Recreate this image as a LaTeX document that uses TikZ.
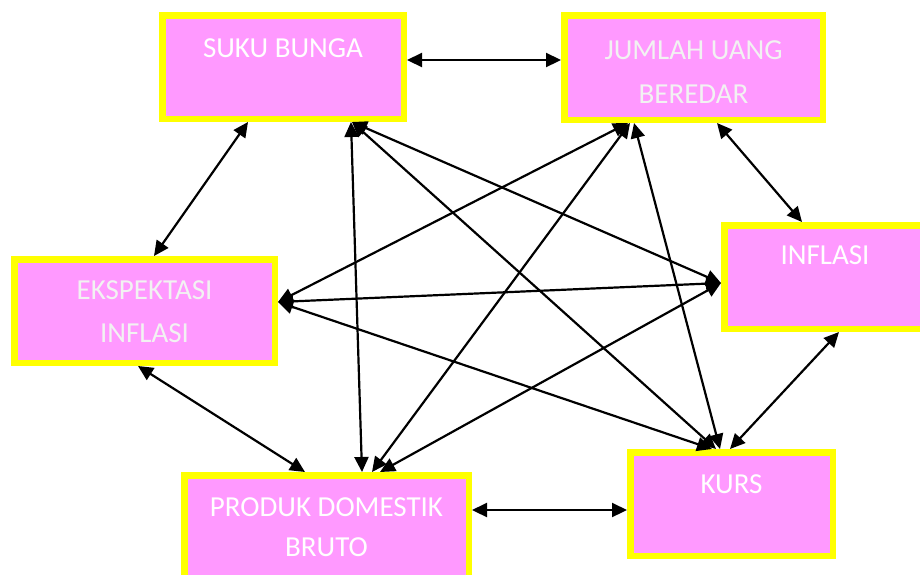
\documentclass[tikz,border=0pt]{standalone}
\usepackage{fontspec}
\setmainfont{Carlito}
\usetikzlibrary{arrows.meta}
\definecolor{boxpink}{HTML}{FF99FF}
\definecolor{boxyellow}{HTML}{FFFF00}
\definecolor{softwhite}{HTML}{F2F2F2}
\tikzset{
  varbox/.style={draw=boxyellow, fill=boxpink, line width=6.5pt, inner sep=0pt},
  vartext/.style={text=white, anchor=base, align=center, inner sep=0pt,
    font=\fontsize{29}{44}\selectfont},
  link/.style={line width=2.2pt, {Triangle[length=15pt,width=14pt]}-{Triangle[length=15pt,width=14pt]}}
}
\begin{document}
\begin{tikzpicture}[x=1pt, y=-1pt]
\useasboundingbox (0,0) rectangle (920,574);
\clip (0,0) rectangle (920,574);

% variable boxes (path size = outer size minus the yellow rim)
\node[varbox, minimum width=241.5pt, minimum height=103.5pt] (sb) at (283,67) {};
\node[varbox, minimum width=258.5pt, minimum height=104.5pt] (ju) at (693.5,67.5) {};
\node[varbox, minimum width=260.5pt, minimum height=103.5pt] (ek) at (144.5,311) {};
\node[varbox, minimum width=201.5pt, minimum height=103.5pt] (in) at (825,277) {};
\node[varbox, minimum width=284.5pt, minimum height=103.5pt] (pd) at (326.5,527) {};
\node[varbox, minimum width=202.5pt, minimum height=103.5pt] (ku) at (731.5,504) {};

% labels (a multi-line label sits on the baseline of its last line)
\node[vartext] (sb-t) at (283,57) {SUKU BUNGA};
\node[vartext, text=softwhite] (ju-t) at (693.5,103) {JUMLAH UANG\\BEREDAR};
\node[vartext, text=softwhite, font=\fontsize{29}{43}\selectfont] (ek-t) at (144.5,342) {EKSPEKTASI\\INFLASI};
\node[vartext] (in-t) at (825,264) {INFLASI};
\node[vartext, font=\fontsize{29}{40}\selectfont] (pd-t) at (326.5,556) {PRODUK DOMESTIK\\BRUTO};
\node[vartext] (ku-t) at (731.5,493) {KURS};

% two-way links between the variables
\draw[link] ([yshift=7pt]sb.east) -- ([yshift=7.5pt]ju.west);
\draw[link] ([xshift=-35pt]sb.south) -- ([xshift=9.5pt]ek.north);
\draw[link] ([xshift=23.5pt]ju.south) -- ([xshift=-23pt]in.north);
\draw[link] ([xshift=-6.5pt]ek.south) -- ([xshift=-21.5pt]pd.north);
\draw[link] ([yshift=17pt]pd.east) -- ([yshift=-6pt]ku.west);
\draw[link] ([xshift=14pt]in.south) -- ([xshift=-1.5pt]ku.north);

\draw[link] ([xshift=68pt]sb.south) -- ([xshift=35.5pt]pd.north);
\draw[link] ([xshift=69pt]sb.south) -- ([yshift=-6pt]in.west);
\draw[link] ([xshift=69pt]sb.south) -- ([xshift=-15.5pt]ku.north);

\draw[link] ([xshift=-65.5pt]ju.south) -- ([yshift=9pt]ek.east);
\draw[link] ([xshift=-63.5pt]ju.south) -- ([xshift=45.5pt]pd.north);
\draw[link] ([xshift=-59.5pt]ju.south) -- ([xshift=-11.5pt]ku.north);

\draw[link] ([yshift=9pt]ek.east) -- ([yshift=-6pt]in.west);
\draw[link] ([yshift=9pt]ek.east) -- ([xshift=-19.5pt]ku.north);
\draw[link] ([yshift=-6pt]in.west) -- ([xshift=53.5pt]pd.north);
\end{tikzpicture}
\end{document}
